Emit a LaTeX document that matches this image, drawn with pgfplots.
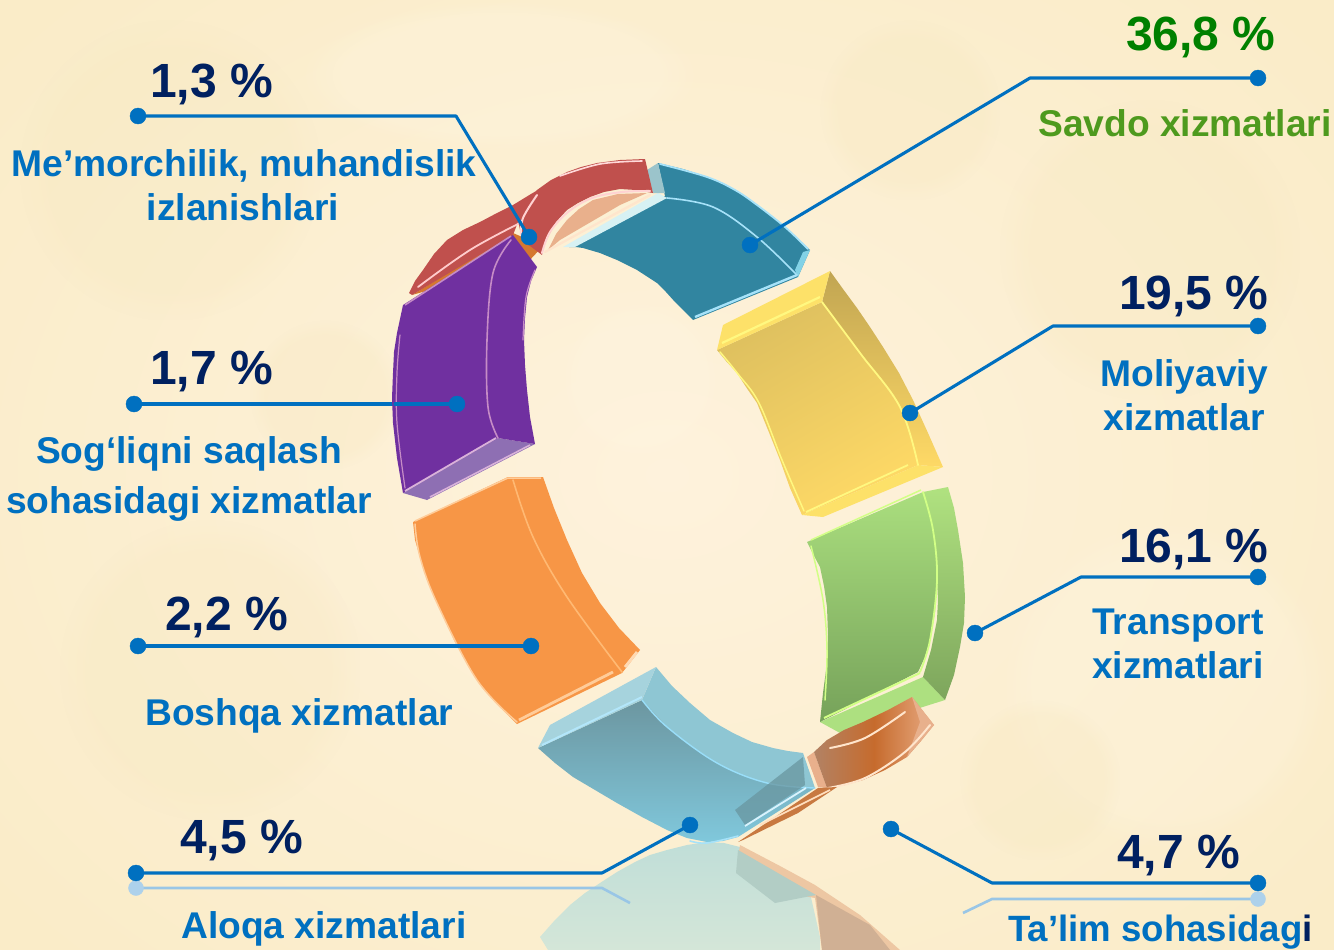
\documentclass[border=0pt]{standalone}
\usepackage{pgfplots}
\pgfplotsset{compat=1.18}
\usepackage{fontspec}
\usetikzlibrary{fadings}
\setmainfont{Liberation Sans}
\definecolor{navy}{HTML}{002060}
\definecolor{lead}{HTML}{0070C0}
\definecolor{sgreen}{HTML}{4E9A1E}
\newcommand\poly[2]{\addplot[#1,forget plot] coordinates {#2} -- cycle;}
\newcommand\hl[2]{\addplot[smooth,tension=0.6,#1,forget plot,line cap=round,line join=round] coordinates {#2};}
\newcommand\ldr[1]{\addplot[color=lead,line width=3.1pt,forget plot,line cap=round,line join=round] coordinates {#1};}
\newcommand\val[3]{\node[anchor=base west,inner sep=0pt,text=navy,font=\fontsize{48}{50}\selectfont\bfseries] at (axis cs:#1,#2) {#3};}
\newcommand\lab[4]{\node[anchor=base #1,inner sep=0pt,text=lead,font=\fontsize{37.2}{40}\selectfont\bfseries] at (axis cs:#2,#3) {#4};}
\newcommand\blot[2]{\addplot[draw=none,fill=#1,fill opacity=0.3,path fading=circle with fuzzy edge 20 percent,forget plot] coordinates {#2} -- cycle;}
\definecolor{tanb}{RGB}{247,232,192}
\definecolor{crm}{RGB}{255,246,226}
\begin{document}
\begin{tikzpicture}
\clip (0,0) rectangle (1334pt,950pt);
\begin{axis}[scale only axis,width=1334pt,height=950pt,xmin=0,xmax=1334,ymin=0,ymax=950,y dir=reverse,hide axis,no markers,clip=true]
% background
\poly{draw=none,inner color={rgb,255:red,254;green,242;blue,220},outer color={rgb,255:red,250;green,236;blue,200},shading=radial}{(-200,-200)(1534,-200)(1534,1150)(-200,1150)}
\blot{tanb}{(20,20)(320,20)(320,320)(20,320)}
\blot{tanb}{(1000,100)(1300,100)(1300,400)(1000,400)}
\blot{tanb}{(60,520)(360,520)(360,820)(60,820)}
\blot{crm}{(1000,520)(1330,520)(1330,850)(1000,850)}
\blot{crm}{(300,0)(700,0)(700,150)(300,150)}
\blot{tanb}{(820,20)(1000,20)(1000,200)(820,200)}
\blot{tanb}{(250,320)(400,320)(400,470)(250,470)}
\blot{crm}{(560,300)(720,300)(720,460)(560,460)}
\blot{tanb}{(960,700)(1120,700)(1120,860)(960,860)}
% reflections
\addplot[draw=none,top color={rgb,255:red,192;green,222;blue,216},bottom color={rgb,255:red,212;green,230;blue,216},forget plot] coordinates {(540,937)(555,920)(570,905)(585,893)(600,883)(617,872)(635,862)(650,855)(667,850)(687,845)(707,842)(724,843)(740,847)(757,857)(775,868)(792,880)(810,893)(820,937)(820,950)(548,950)} -- cycle;
\poly{draw=none,fill={rgb,255:red,237;green,199;blue,163}}{(740,845)(780,866)(815,885)(860,915)(900,950)(822,950)(815,898)(770,890)(738,858)}
\poly{draw=none,fill={rgb,255:red,178;green,205;blue,197}}{(736,873)(775,903)(816,895)(738,850)}
\poly{draw=none,fill={rgb,255:red,208;green,176;blue,148}}{(816,895)(870,925)(890,950)(822,950)}
\addplot[color=lead!40!white,line width=2.6pt,forget plot] coordinates {(136,888)(602,888)(630,903)};
\addplot[color=lead!40!white,line width=2.6pt,forget plot] coordinates {(1258,899)(992,899)(963,913)};
\addplot[only marks,mark=*,mark size=7.5pt,color=lead!32!white,mark options={draw=lead!32!white,fill=lead!32!white},forget plot] coordinates {(136,888)(1258,899)};
% red back, peach
\poly{draw=none,fill={rgb,255:red,213;green,120;blue,47}}{(412,295)(513,233)(543,246)(528,262)}
\poly{draw=none,fill={rgb,255:red,192;green,80;blue,77}}{(409,293)(415,281)(423,270)(434,254)(447,240)(463,230)(480,222)(497,213)(513,205)(531,194)(550,183)(560,205)(518,222)(513,235)(412,295)}
\hl{color=pink!80!white,line width=1.8pt}{(418,287)(470,250)(520,223)}
\poly{draw=none,fill={rgb,255:red,233;green,176;blue,140}}{(548,250)(556,234)(567,220)(579,209)(593,200)(618,194)(647,193)(620,205)(560,240)}
\hl{color=white!80!orange,line width=2.2pt}{(545,252)(600,222)(650,195)}
% teal
\poly{draw=none,fill={rgb,255:red,49;green,133;blue,160}}{(569,247)(665,196)(658,163)(683,169)(707,177)(721,183)(735,190)(746,197)(757,205)(771,216)(785,227)(797,238)(810,250)(798,277)(693,320)(684,311)(675,302)(666,292)(657,283)(637,270)(617,260)(600,253)(583,248)(576,247)}
\poly{draw=none,fill={rgb,255:red,215;green,241;blue,243}}{(563,247)(658,193)(667,198)(575,247)}
\poly{draw=none,fill={rgb,255:red,155;green,196;blue,203}}{(647,170)(658,163)(665,193)(653,193)}
\poly{draw=none,fill={rgb,255:red,130;green,210;blue,230}}{(810,250)(798,277)(795,270)(803,252)}
\hl{color=cyan!35!white,line width=1.8pt}{(660,164)(707,177)(735,190)(757,205)(785,227)(808,249)}
\hl{color=cyan!35!white,line width=1.6pt}{(667,198)(713,207)(757,237)(797,275)}
\addplot[color=cyan!35!white,line width=2.4pt,forget plot] coordinates {(695,317)(797,275)};
% red front
\poly{draw=none,fill={rgb,255:red,192;green,80;blue,77}}{(518,220)(526,204)(537,190)(551,180)(567,172)(581,167)(597,163)(620,160)(645,159)(653,193)(636,190)(620,189)(604,192)(590,197)(578,203)(567,210)(556,222)(548,237)(544,246)(542,255)(522,240)}
\hl{color=pink!70!white,line width=2pt}{(542,253)(550,232)(568,212)(592,198)(622,192)(650,191)}
\hl{color=pink!70!white,line width=2pt}{(521,235)(523,218)(537,195)}
\hl{color=pink!60!white,line width=1.6pt}{(560,176)(600,164)(642,161)}
% yellow
\poly{draw=none,top color={rgb,255:red,193;green,165;blue,82},bottom color={rgb,255:red,254;green,217;blue,102}}{(830,271)(843,289)(857,308)(870,327)(883,347)(899,373)(913,400)(928,433)(943,467)(918,465)(910,435)(900,407)(881,380)(860,353)(841,327)(822,302)}
\poly{draw=none,top color={rgb,255:red,222;green,192;blue,95},middle color={rgb,255:red,254;green,217;blue,102},bottom color={rgb,255:red,254;green,217;blue,102},shading angle=30}{(717,350)(822,302)(841,327)(860,353)(881,380)(900,407)(910,435)(918,465)(802,515)(790,488)(780,460)(768,430)(757,403)(746,387)(737,373)(726,361)}
\poly{draw=none,fill={rgb,255:red,253;green,225;blue,105}}{(717,350)(723,325)(830,271)(822,302)}
\poly{draw=none,fill={rgb,255:red,253;green,225;blue,105}}{(802,515)(918,465)(943,467)(823,517)}
\addplot[color=white!50!yellow,line width=2.2pt,forget plot] coordinates {(722,343)(820,297)};
\addplot[color=white!50!yellow,line width=1.8pt,forget plot] coordinates {(806,512)(908,465)};
\hl{color=white!50!yellow,line width=1.8pt}{(822,302)(860,353)(900,407)(918,465)}
\hl{color=white!50!yellow,line width=1.5pt}{(720,352)(738,374)(759,403)(782,460)(804,511)}
% green
\poly{draw=none,fill={rgb,255:red,173;green,224;blue,128}}{(820,722)(923,677)(945,700)(840,733)}
\poly{draw=none,top color={rgb,255:red,176;green,226;blue,128},middle color={rgb,255:red,172;green,218;blue,126},bottom color={rgb,255:red,125;green,165;blue,92}}{(923,492)(948,487)(954,508)(958,530)(963,563)(965,597)(964,623)(960,647)(954,675)(945,700)(923,677)(931,650)(937,620)(938,600)(937,580)(936,555)(933,530)(929,510)}
\poly{draw=none,top color={rgb,255:red,170;green,222;blue,126},middle color={rgb,255:red,170;green,220;blue,125},bottom color={rgb,255:red,118;green,162;blue,90}}{(807,542)(923,492)(929,510)(933,530)(936,555)(937,580)(935,612)(930,640)(925,657)(918,672)(820,722)(823,693)(827,663)(828,635)(827,607)(824,586)(820,567)(813,554)}
\hl{color=green!25!white!70!yellow,line width=1.8pt}{(923,492)(933,530)(937,580)(930,640)(920,672)}
\addplot[color=green!25!white!70!yellow,line width=2pt,forget plot] coordinates {(824,718)(920,673)};
\hl{color=green!25!white!70!yellow,line width=1.5pt}{(811,546)(823,600)(827,650)(825,700)}
\addplot[color=green!25!white!70!yellow,line width=1.5pt,forget plot] coordinates {(811,540)(921,490)};
% orange
\poly{draw=none,fill={rgb,255:red,247;green,150;blue,70}}{(413,522)(508,477)(543,477)(554,508)(567,540)(582,573)(600,603)(619,628)(640,650)(622,673)(517,724)(496,703)(477,680)(455,642)(437,603)(427,580)(420,557)(415,540)}
\hl{color=orange!55!white,line width=1.6pt}{(513,480)(533,537)(567,597)(622,672)}
\addplot[color=orange!40!white,line width=2.8pt,forget plot] coordinates {(519,720)(613,672)};
\hl{color=orange!40!white,line width=1.5pt}{(415,524)(420,557)(437,603)(477,680)(517,722)}
\addplot[color=orange!40!white,line width=1.5pt,forget plot] coordinates {(415,521)(508,478)(541,478)};
\addplot[color=orange!30!white,line width=2.8pt,forget plot] coordinates {(625,667)(637,652)};
% light blue
\poly{draw=none,fill={rgb,255:red,142;green,198;blue,211}}{(656,667)(672,686)(690,703)(710,720)(733,733)(752,742)(773,748)(788,751)(803,753)(815,788)(790,787)(767,783)(741,775)(717,763)(691,746)(667,727)(654,713)(642,700)}
\poly{draw=none,top color={rgb,255:red,108;green,150;blue,160},middle color={rgb,255:red,136;green,194;blue,207},bottom color={rgb,255:red,128;green,200;blue,220}}{(538,748)(642,700)(654,713)(667,727)(691,746)(717,763)(741,775)(767,783)(790,787)(815,788)(738,837)(723,841)(707,842)(687,838)(667,830)(642,817)(617,803)(595,790)(573,777)(555,763)}
\poly{draw=none,fill={rgb,255:red,166;green,211;blue,221}}{(538,748)(550,725)(656,667)(642,700)}
\addplot[color=white!70!cyan,line width=2pt,forget plot] coordinates {(542,745)(642,697)};
\hl{color=cyan!40!white,line width=1.4pt}{(642,700)(667,727)(717,763)(767,783)(815,788)}
\hl{color=cyan!35!white,line width=1.6pt}{(690,841)(707,843)(738,836)}
\poly{draw=none,fill={rgb,255:red,105;green,150;blue,160},fill opacity=0.75}{(735,810)(803,757)(805,785)(745,825)}
% copper
\poly{draw=none,fill={rgb,255:red,233;green,176;blue,140}}{(807,757)(814,752)(827,788)(818,787)}
\poly{draw=none,left color={rgb,255:red,178;green,130;blue,100},right color={rgb,255:red,232;green,170;blue,130},middle color={rgb,255:red,198;green,107;blue,45}}{(814,752)(827,740)(844,730)(863,722)(888,710)(912,697)(934,725)(921,741)(907,757)(885,770)(863,780)(845,785)(827,788)}
\poly{draw=none,fill={rgb,255:red,232;green,176;blue,140}}{(912,697)(934,725)(907,757)(920,722)}
\hl{color=white!80!orange,line width=2pt}{(830,748)(865,738)(905,712)}
\hl{color=white!80!orange,line width=2pt}{(828,788)(865,778)(905,752)(930,725)}
\poly{draw=none,fill={rgb,255:red,200;green,121;blue,65}}{(738,842)(818,788)(837,787)(798,813)(743,840)}
\addplot[color=white!75!orange,line width=1.6pt,forget plot] coordinates {(760,825)(830,790)};
\addplot[color=white!85!cyan,line width=1.8pt,forget plot] coordinates {(745,826)(806,788)};
% leaders
\ldr{(750,245)(1030,78)(1258,78)}
\ldr{(910,413)(1053,326)(1258,326)}
\ldr{(975,633)(1081,577)(1258,577)}
\ldr{(891,829)(992,883)(1258,883)}
\ldr{(136,873)(602,873)(690,825)}
\ldr{(138,646)(531,646)}
\ldr{(134,404)(395,404)}
\ldr{(138,116)(456,116)(520,222)}
\addplot[only marks,mark=*,mark size=8pt,color=lead,mark options={draw=lead,fill=lead},forget plot] coordinates {(750,245)(1258,78)(910,413)(1258,326)(975,633)(1258,577)(891,829)(1258,883)(136,873)(690,825)(138,646)(531,646)(134,404)(138,116)};
% text
\node[anchor=base west,inner sep=0pt,text={rgb,255:red,0;green,128;blue,0},font=\fontsize{48}{50}\selectfont\bfseries] at (axis cs:1126,50) {36,8 \%};
\node[anchor=base west,inner sep=0pt,text=sgreen,font=\fontsize{37.2}{40}\selectfont\bfseries] at (axis cs:1038,136) {Savdo xizmatlari};
\val{1119}{309}{19,5 \%}
\lab{east}{1268}{386}{Moliyaviy}
\lab{east}{1265}{430}{xizmatlar}
\val{1119}{562}{16,1 \%}
\lab{east}{1264}{634}{Transport}
\lab{east}{1264}{678}{xizmatlari}
\val{1117}{868}{4,7 \%}
\node[anchor=base west,inner sep=0pt,text=lead,font=\fontsize{36.6}{40}\selectfont\bfseries] at (axis cs:1008,941) {Ta’lim sohasidag\textcolor{navy}{i}};
\val{150}{97}{1,3 \%}
\lab{}{244}{176}{Me’morchilik, muhandislik}
\lab{}{243}{220}{izlanishlari}
\val{150}{384}{1,7 \%}
\lab{}{189}{463}{Sog‘liqni saqlash}
\lab{}{189}{513}{sohasidagi xizmatlar}
\val{165}{630}{2,2 \%}
\lab{west}{145}{725}{Boshqa xizmatlar}
\val{180}{853}{4,5 \%}
\lab{west}{181}{938}{Aloqa xizmatlari}
% purple
\poly{draw=none,fill={rgb,255:red,142;green,111;blue,179}}{(403,493)(498,438)(535,444)(427,500)}
\poly{draw=none,fill={rgb,255:red,112;green,48;blue,160}}{(403,305)(513,235)(537,267)(531,281)(527,297)(525,318)(524,340)(525,365)(527,390)(530,417)(535,444)(498,438)(403,493)(397,458)(393,423)(392,398)(393,373)(394,352)(397,333)(400,319)}
\addplot[color=violet!30!white,line width=1.8pt,forget plot] coordinates {(405,491)(496,438)};
\addplot[color=white!70!violet,line width=1.6pt,forget plot] coordinates {(430,497)(530,445)};
\addplot[color=violet!45!white,line width=1.6pt,forget plot] coordinates {(405,305)(511,236)};
\hl{color=violet!45!white,line width=1.6pt}{(511,240)(493,273)(487,340)(488,407)(498,438)}
\hl{color=violet!45!white,line width=1.2pt}{(400,335)(397,373)(397,423)(405,488)}
\hl{color=violet!45!white,line width=1.2pt}{(535,270)(526,297)(523,340)}
\ldr{(395,404)(457,404)}
\ldr{(520,222)(529,237)}
\addplot[only marks,mark=*,mark size=8pt,color=lead,mark options={draw=lead,fill=lead},forget plot] coordinates {(457,404)(529,237)};
\end{axis}
\end{tikzpicture}
\end{document}
